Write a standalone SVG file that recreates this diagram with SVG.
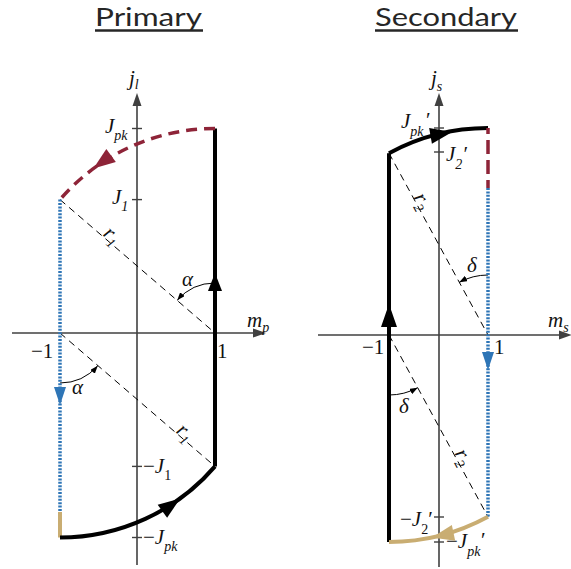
<svg xmlns="http://www.w3.org/2000/svg" width="571" height="569" viewBox="0 0 571 569">
<style>
.title{font-family:Lato,"Open Sans","Liberation Sans",sans-serif;font-size:25px;fill:#262626}
.ul{stroke:#262626;stroke-width:2.5}
.axis{stroke:#404040;stroke-width:1.6;fill:none}
.tick{stroke:#404040;stroke-width:1.4}
.ah{fill:#404040}
.m{font-family:"Liberation Serif","Times New Roman",serif;font-style:italic;font-size:21px;fill:#111}
.n{font-family:"Liberation Serif","Times New Roman",serif;font-size:21px;fill:#111}
.s{font-size:14px}
.thick{stroke:#000;stroke-width:4;fill:none}
.red{stroke:#8E2438;stroke-width:3.5;fill:none;stroke-dasharray:11 7}
.blue{stroke:#2E75B6;stroke-width:3.5;fill:none;stroke-dasharray:2 1.4}
.tan{stroke:#C9AD72;stroke-width:4;fill:none}
.dash{stroke:#000;stroke-width:1;fill:none;stroke-dasharray:7 5}
.ang{stroke:#000;stroke-width:1;fill:none;marker-end:url(#sm)}
</style>
<defs>
<marker id="sm" markerWidth="8" markerHeight="6" refX="8" refY="3" orient="auto" markerUnits="userSpaceOnUse">
<path d="M0,0 L8,3 L0,6 z" fill="#000"/>
</marker>
<path id="big" d="M0,0 L-22,-8 L-22,8 Z"/>
</defs>

<g id="titles">
<text class="title" x="95" y="26" textLength="107" lengthAdjust="spacingAndGlyphs">Primary</text>
<line class="ul" x1="95" y1="30.5" x2="203" y2="30.5"/>
<text class="title" x="375" y="26" textLength="142" lengthAdjust="spacingAndGlyphs">Secondary</text>
<line class="ul" x1="375" y1="30.5" x2="518" y2="30.5"/>
</g>

<g id="primary-axes">
<line class="axis" x1="137" y1="565" x2="137" y2="102"/>
<path class="ah" d="M137,93 L132.5,106 L141.5,106 Z"/>
<line class="axis" x1="12" y1="333" x2="256" y2="333"/>
<path class="ah" d="M266,333 L253,328.5 L253,337.5 Z"/>
<line class="tick" x1="132" y1="128.5" x2="142" y2="128.5"/>
<line class="tick" x1="132" y1="199.6" x2="142" y2="199.6"/>
<line class="tick" x1="132" y1="466.4" x2="142" y2="466.4"/>
<line class="tick" x1="132" y1="537.5" x2="142" y2="537.5"/>
</g>

<g id="primary-labels">
<text class="m" x="129" y="85">j<tspan class="s" dy="4">l</tspan></text>
<text class="m" x="247" y="327">m<tspan class="s" dy="5">p</tspan></text>
<text class="m" x="105" y="133">J<tspan class="s" dy="7">pk</tspan></text>
<text class="m" x="112" y="204">J<tspan class="n s" dy="7">1</tspan></text>
<text x="143" y="473"><tspan class="n">−</tspan><tspan class="m">J</tspan><tspan class="n s" dy="7">1</tspan></text>
<text x="143" y="544"><tspan class="n">−</tspan><tspan class="m">J</tspan><tspan class="m s" dy="7">pk</tspan></text>
<text class="n" x="31" y="358">−1</text>
<text class="n" x="217" y="358">1</text>
<text class="m" x="182" y="286">α</text>
<text class="m" x="72" y="394">α</text>
<text class="m" text-anchor="middle" transform="translate(108,240) rotate(40.8)" y="0">r<tspan class="n s" dy="5">1</tspan></text>
<text class="m" text-anchor="middle" transform="translate(181,437) rotate(40.8)" y="0">r<tspan class="n s" dy="5">1</tspan></text>
</g>

<g id="primary-locus">
<line class="dash" x1="60" y1="199.6" x2="215" y2="333"/>
<line class="dash" x1="60" y1="333" x2="215" y2="466.4"/>
<path class="ang" d="M215,283 A50,50 0 0 0 177.2,300.3"/>
<path class="ang" d="M60,383 A50,50 0 0 0 97.8,365.7"/>
<line class="thick" x1="215" y1="128.5" x2="215" y2="466.4"/>
<path class="red" d="M215,128.5 A204.5,204.5 0 0 0 60,199.6"/>
<line class="blue" x1="60" y1="199.6" x2="60" y2="512"/>
<line class="tan" x1="60" y1="512" x2="60" y2="537.5"/>
<path class="thick" d="M60,537.5 A204.5,204.5 0 0 0 215,466.4"/>
<path d="M215,273 L208,291 L222,291 Z" fill="#000"/>
<path d="M60,405 L54,387 L66,387 Z" fill="#2E75B6"/>
<use href="#big" fill="#8E2438" transform="translate(93.4,168.6) rotate(143.5)"/>
<use href="#big" fill="#000" transform="translate(180.2,498.4) rotate(-36)"/>
</g>

<g id="secondary-axes">
<line class="axis" x1="439" y1="567" x2="439" y2="102"/>
<path class="ah" d="M439,93 L434.5,106 L443.5,106 Z"/>
<line class="axis" x1="318" y1="335" x2="562" y2="335"/>
<path class="ah" d="M572,335 L559,330.5 L559,339.5 Z"/>
<line class="tick" x1="434" y1="128" x2="444" y2="128"/>
<line class="tick" x1="434" y1="152" x2="444" y2="152"/>
<line class="tick" x1="434" y1="517" x2="444" y2="517"/>
<line class="tick" x1="434" y1="542" x2="444" y2="542"/>
</g>

<g id="secondary-labels">
<text class="m" x="431" y="85">j<tspan class="s" dy="6">s</tspan></text>
<text class="m" x="548" y="327">m<tspan class="s" dy="5">s</tspan></text>
<text class="m" x="401" y="128">J<tspan class="s" dy="8">pk</tspan></text>
<text class="n" x="426" y="127">′</text>
<text class="m" x="446" y="161">J<tspan class="n s" dy="8">2</tspan><tspan class="n" dy="-8">′</tspan></text>
<text x="400" y="526"><tspan class="n">−</tspan><tspan class="m">J</tspan><tspan class="n s" dy="8">2</tspan><tspan class="n" dy="-8">′</tspan></text>
<text x="446" y="548"><tspan class="n">−</tspan><tspan class="m">J</tspan><tspan class="m s" dy="8">pk</tspan></text>
<text class="n" x="481" y="547">′</text>
<text class="n" x="362" y="354">−1</text>
<text class="n" x="494" y="354">1</text>
<text class="m" x="467" y="272">δ</text>
<text class="m" x="399" y="413">δ</text>
<text class="m" text-anchor="middle" transform="translate(417,204) rotate(61.4)" y="0">r<tspan class="n s" dy="5">2</tspan></text>
<text class="m" text-anchor="middle" transform="translate(458,460) rotate(61.4)" y="0">r<tspan class="n s" dy="5">2</tspan></text>
</g>

<g id="secondary-locus">
<line class="dash" x1="389" y1="153.2" x2="488" y2="335"/>
<line class="dash" x1="389" y1="335" x2="488" y2="516.8"/>
<path class="ang" d="M488,275 A60,60 0 0 0 459.3,282.3"/>
<path class="ang" d="M389,395 A60,60 0 0 0 417.7,387.7"/>
<line class="thick" x1="389" y1="153.2" x2="389" y2="542"/>
<path class="thick" d="M389,153.2 A207,207 0 0 1 488,128"/>
<line class="red" x1="488" y1="128" x2="488" y2="188" style="stroke-dasharray:14 6;stroke-dashoffset:8"/>
<line class="blue" x1="488" y1="188" x2="488" y2="516.8"/>
<path class="tan" d="M488,516.8 A207,207 0 0 1 389,542"/>
<path d="M389,304 L381,327 L397,327 Z" fill="#000"/>
<path d="M488,370 L482,352 L494,352 Z" fill="#2E75B6"/>
<use href="#big" fill="#000" transform="translate(452.2,132.1) rotate(-10)"/>
<use href="#big" fill="#C9AD72" transform="translate(432,537.5) rotate(168)"/>
</g>
</svg>
